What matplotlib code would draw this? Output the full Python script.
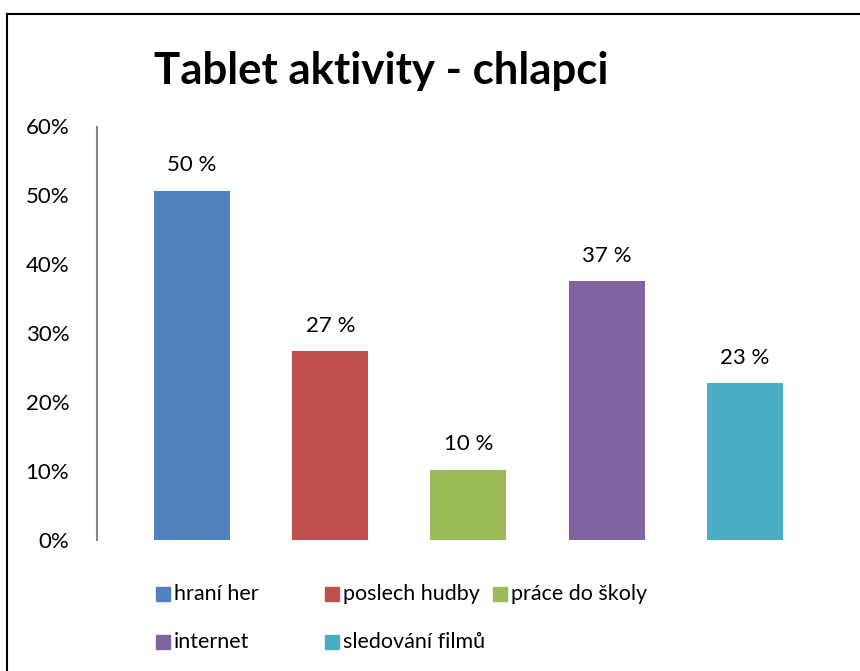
import matplotlib.pyplot as plt
from matplotlib.lines import Line2D
from matplotlib.patches import Rectangle

plt.rcParams['font.family'] = ['Lato', 'DejaVu Sans']

categories = ["hraní her", "poslech hudby", "práce do školy", "internet", "sledování filmů"]
values = [50.7, 27.4, 10.2, 37.6, 22.8]
value_labels = ["50 %", "27 %", "10 %", "37 %", "23 %"]
colors = ["#4F81BD", "#C0504D", "#9BBB59", "#8064A2", "#4BACC6"]
yticks = [0, 10, 20, 30, 40, 50, 60]

W, H = 860, 671
fig = plt.figure(figsize=(W / 100, H / 100), dpi=100)
ax = fig.add_axes([97 / W, 1 - 540 / H, (814 - 97) / W, (540 - 126.5) / H])

x = range(len(categories))
bars = ax.bar(x, values, width=0.55, color=colors)
for b, lab in zip(bars, value_labels):
    ax.annotate(lab, (b.get_x() + b.get_width() / 2, b.get_height()),
                xytext=(0, 11), textcoords="offset points",
                ha="center", va="bottom", fontsize=16)

ax.set_xlim(-0.688, 4.5)
ax.set_ylim(0, 60)
ax.set_yticks(yticks)
ax.set_yticklabels([f"{t}%" for t in yticks], fontsize=16)
ax.tick_params(axis="y", length=0, pad=20)
ax.set_xticks([])
for s in ["top", "right", "bottom"]:
    ax.spines[s].set_visible(False)
ax.spines["left"].set_color("#868686")
ax.spines["left"].set_linewidth(1.5)

fig.text(381 / W, 1 - 71 / H, "Tablet aktivity - chlapci", ha="center", va="center",
         fontsize=31.5, fontweight="bold")

# legend laid out like the original: three equal columns, two rows
leg_pos = [(156, 594), (325, 594), (493, 594), (156, 642), (325, 642)]
for (lx, ly), name, c in zip(leg_pos, categories, colors):
    fig.add_artist(Rectangle((lx / W, 1 - (ly + 7) / H), 14 / W, 14 / H,
                             transform=fig.transFigure, color=c))
    fig.text((lx + 18) / W, 1 - ly / H, name, ha="left", va="center", fontsize=15.5)

# outer frame (top and left edges visible)
fig.add_artist(Line2D([7 / W, 1], [1 - 14 / H, 1 - 14 / H], color="black", lw=1.5))
fig.add_artist(Line2D([7 / W, 7 / W], [0, 1 - 14 / H], color="black", lw=1.5))

fig.savefig("out.png", dpi=100)
